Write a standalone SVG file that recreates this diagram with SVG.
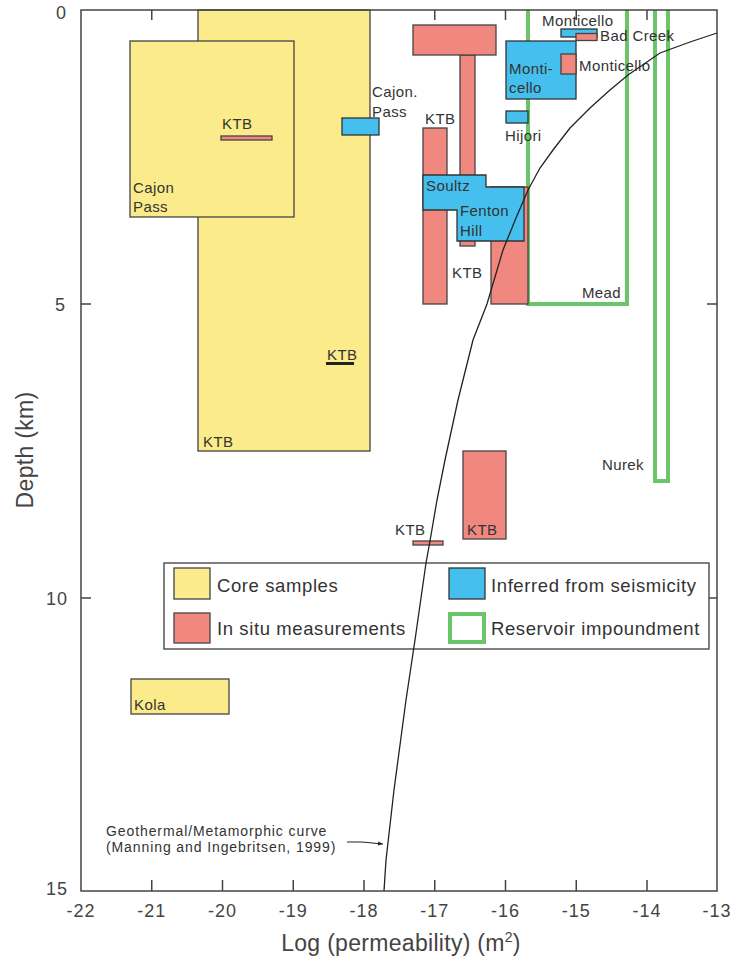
<svg xmlns="http://www.w3.org/2000/svg" width="730" height="959" viewBox="0 0 730 959">
<defs>
<style>
.core{fill:#FCEB8A;stroke:#444;stroke-width:1.3}
.situ{fill:#F08880;stroke:#444;stroke-width:1.3}
.seis{fill:#45C0EE;stroke:#333;stroke-width:1.3}
.res{fill:none;stroke:#6CC46A;stroke-width:4}
.lbl{font-family:"Liberation Sans",Arial,sans-serif;font-size:15px;letter-spacing:0.4px;fill:#333}
.ann{font-family:"Liberation Sans",Arial,sans-serif;font-size:14px;letter-spacing:0.9px;fill:#333}
.leg{font-family:"Liberation Sans",Arial,sans-serif;font-size:18.5px;letter-spacing:0.6px;fill:#333}
.tick{font-family:"Liberation Sans",Arial,sans-serif;font-size:18px;letter-spacing:1px;fill:#444}
.title{font-family:"Liberation Sans",Arial,sans-serif;font-size:23px;letter-spacing:0.3px;fill:#444}
.ax{stroke:#444;stroke-width:1.5;fill:none}
</style>
<marker id="ah" viewBox="0 0 10 10" refX="10" refY="5" markerWidth="7" markerHeight="5" orient="auto" markerUnits="userSpaceOnUse">
<path d="M0,1 L10,5 L0,9 Z" fill="#222"/>
</marker>
</defs>
<rect x="0" y="0" width="730" height="959" fill="#fff"/>

<g id="ticks" class="ax">
<path d="M151.75,10V20M222.5,10V20M293.25,10V20M364,10V20M434.75,10V20M505.5,10V20M576.25,10V20M647,10V20"/>
<path d="M151.75,891V880M222.5,891V880M293.25,891V880M364,891V880M434.75,891V880M505.5,891V880M576.25,891V880M647,891V880"/>
<path d="M81,304H91M81,598H91M717,304H707M717,598H707"/>
</g>

<g id="ktb-core-big">
<rect class="core" x="198" y="10" width="172" height="441"/>
<text class="lbl" x="203" y="447">KTB</text>
</g>
<g id="cajon-core">
<rect class="core" x="130" y="41" width="164" height="176"/>
<text class="lbl" x="133" y="193">Cajon</text>
<text class="lbl" x="133" y="212">Pass</text>
</g>
<g id="ktb-situ-thin">
<rect class="situ" x="221" y="136" width="51" height="4"/>
<text class="lbl" x="222" y="129">KTB</text>
</g>
<g id="ktb-core-6km">
<rect x="326" y="362" width="28" height="3" fill="#222"/>
<text class="lbl" x="327" y="360">KTB</text>
</g>
<g id="cajon-seis">
<rect class="seis" x="342" y="118" width="37" height="17"/>
<text class="lbl" x="372" y="97">Cajon.</text>
<text class="lbl" x="372" y="117">Pass</text>
</g>
<g id="kola-core">
<rect class="core" x="131" y="679" width="98" height="35"/>
<text class="lbl" x="134" y="710">Kola</text>
</g>

<g id="mead-res">
<path class="res" d="M528,10V304H627V10"/>
<text class="lbl" x="621" y="298" text-anchor="end">Mead</text>
</g>
<g id="nurek-res">
<path class="res" d="M655,10V481H668V10"/>
<text class="lbl" x="602" y="470">Nurek</text>
</g>

<g id="situ-stem">
<rect class="situ" x="460" y="55" width="15" height="191"/>
<rect class="situ" x="413" y="25" width="83" height="30"/>
</g>
<g id="ktb-situ-left">
<rect class="situ" x="423" y="128" width="24" height="176"/>
<text class="lbl" x="425" y="124">KTB</text>
</g>
<g id="ktb-situ-right">
<rect class="situ" x="491" y="187" width="37" height="117"/>
<text class="lbl" x="452" y="278">KTB</text>
</g>
<g id="soultz-fenton-seis">
<path d="M423,175H486V187H524V241H457V210H423Z" fill="#45C0EE" stroke="#333" stroke-width="1.3"/>
<text class="lbl" x="426" y="191">Soultz</text>
<text class="lbl" x="460" y="216">Fenton</text>
<text class="lbl" x="460" y="236">Hill</text>
</g>
<g id="monticello-seis">
<rect class="seis" x="506" y="41" width="70" height="58"/>
<text class="lbl" x="509" y="74">Monti-</text>
<text class="lbl" x="509" y="93">cello</text>
</g>
<g id="monticello-situ">
<rect class="situ" x="561" y="54" width="15" height="20"/>
<text class="lbl" x="579" y="71">Monticello</text>
</g>
<g id="monticello-seis-top">
<rect class="seis" x="561" y="29" width="36" height="8"/>
<text class="lbl" x="542" y="26">Monticello</text>
</g>
<g id="badcreek-situ">
<rect class="situ" x="576" y="33.5" width="21" height="7"/>
<text class="lbl" x="600" y="41">Bad Creek</text>
</g>
<g id="hijori-seis">
<rect class="seis" x="506" y="111" width="22" height="12"/>
<text class="lbl" x="505" y="141">Hijori</text>
</g>
<g id="ktb-situ-deep">
<rect class="situ" x="463" y="451" width="43" height="88"/>
<text class="lbl" x="467" y="535">KTB</text>
</g>
<g id="ktb-situ-deep-thin">
<rect class="situ" x="413" y="541" width="30" height="4"/>
<text class="lbl" x="395" y="535">KTB</text>
</g>

<g id="legend">
<rect x="164" y="563" width="545" height="86" fill="#fff" stroke="#555" stroke-width="1.5"/>
<rect class="core" x="174" y="568" width="36" height="31"/>
<text class="leg" x="217" y="592">Core samples</text>
<rect class="situ" x="174" y="613" width="36" height="30"/>
<text class="leg" x="217" y="635">In situ measurements</text>
<rect class="seis" x="449" y="568" width="36" height="31"/>
<text class="leg" x="491" y="592">Inferred from seismicity</text>
<rect x="450" y="614" width="34" height="28" fill="#fff" stroke="#6CC46A" stroke-width="4"/>
<text class="leg" x="491" y="635">Reservoir impoundment</text>
</g>

<g id="connectors">
<polyline id="geotherm-curve" fill="none" stroke="#222" stroke-width="1.3" points="384,891 386,860 390,825 394,790 400,745 406,700 415,640 420,605 426,563 430,541 437,500 445,460 458,400 473,340 487,304 503,250 516,218 528,190 540,168 553,150 570,128 590,108 610,90 628,75 660,53 690,42 717,33"/>
<polyline fill="none" stroke="#222" stroke-width="1.2" points="347,842 362,842 383,844" marker-end="url(#ah)"/>
</g>
<g id="curve-label">
<text class="ann" x="106" y="836">Geothermal/Metamorphic curve</text>
<text class="ann" x="106" y="852">(Manning and Ingebritsen, 1999)</text>
</g>

<g id="axes">
<rect class="ax" x="81" y="10" width="636" height="881"/>
<g class="tick" text-anchor="middle">
<text x="81" y="917">-22</text>
<text x="151.75" y="917">-21</text>
<text x="222.5" y="917">-20</text>
<text x="293.25" y="917">-19</text>
<text x="364" y="917">-18</text>
<text x="434.75" y="917">-17</text>
<text x="505.5" y="917">-16</text>
<text x="576.25" y="917">-15</text>
<text x="647" y="917">-14</text>
<text x="717" y="917">-13</text>
</g>
<g class="tick" text-anchor="end">
<text x="67" y="19">0</text>
<text x="66" y="311">5</text>
<text x="68" y="605">10</text>
<text x="68" y="895">15</text>
</g>
<text class="title" x="401" y="951" text-anchor="middle">Log (permeability) (m<tspan font-size="14" dy="-9">2</tspan><tspan dy="9">)</tspan></text>
<text class="title" transform="translate(33,450) rotate(-90)" text-anchor="middle">Depth (km)</text>
</g>
</svg>
